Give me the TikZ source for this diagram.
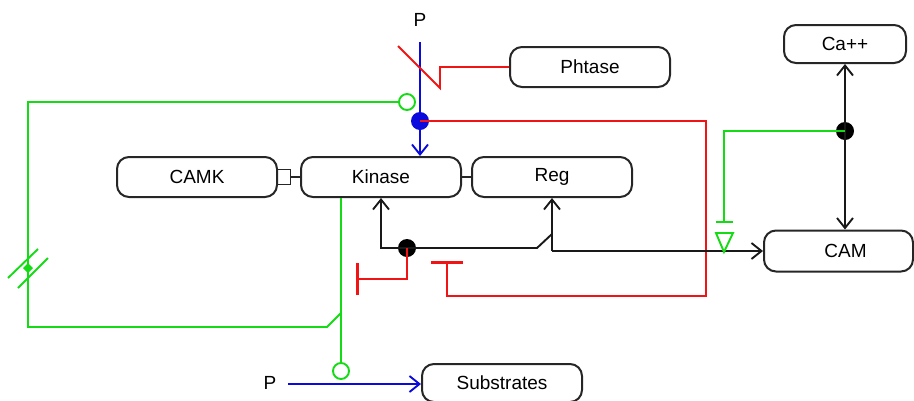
\documentclass[tikz,border=0pt]{standalone}
\usepackage{fontspec}
\setmainfont{Liberation Sans}
\usetikzlibrary{arrows.meta}
\definecolor{gr}{RGB}{20,220,20}
\definecolor{rd}{RGB}{240,20,20}
\definecolor{bl}{RGB}{10,10,220}
\begin{document}
\begin{tikzpicture}[x=1pt,y=-1pt,
  box/.style={draw=black!85, line width=2pt, rounded corners=12pt, minimum width=160pt, minimum height=40pt, inner sep=0pt, font=\fontsize{19}{22}\selectfont},
  lbl/.style={font=\fontsize{19}{22}\selectfont, inner sep=0pt},
  ln/.style={line width=1.9pt},
  barb/.style={-{Straight Barb[length=10pt,width=16pt,line width=1.9pt]}},
  tbar/.style={-{Bar[width=32pt,line width=3pt]}},
  dotb/.style={circle, fill=black, inner sep=0pt, minimum size=18pt},
  circg/.style={circle, draw=gr, fill=white, line width=1.9pt, inner sep=0pt, minimum size=16pt}]
\useasboundingbox (0,0) rectangle (914,400);

% nodes
\node[box] (phtase) at (590,67) {Phtase};
\node[box, minimum width=122pt, minimum height=38pt] (ca) at (845,44) {Ca++};
\node[box] (camk) at (197,177) {CAMK};
\node[box] (kinase) at (381,177) {Kinase};
\node[box] (reg) at (552,177) {Reg};
\node[box, minimum width=149pt, minimum height=41pt] (cam) at (838.5,251) {\hspace*{14pt}CAM};
\node[box, minimum height=38pt] (subs) at (502,383) {Substrates};
\node[lbl] (ptop) at (420,20) {P};
\node[lbl] (pbot) at (270,383) {P};

% CAMK - Kinase
\node[draw=black!85, line width=1.8pt, minimum width=13pt, minimum height=15pt, inner sep=0pt] (sq) at (284,177) {};
\draw[ln, black!85] (sq.east) -- (kinase.west);
\draw[ln, black!85] (kinase.east) -- (reg.west);

% blue top
\coordinate (btop) at (420,42);
\node[dotb, fill=bl] (bdot) at (420,121) {};
\draw[ln, bl, barb] (btop) -- (kinase.north -| btop);

% red Phtase inhibition
\coordinate (ph1) at (440,67);
\coordinate (ph2) at (440,88);
\coordinate (ph3) at (398,46);
\draw[ln, rd] (phtase.west) -- (ph1) -- (ph2) -- (ph3);

% red long line from blue dot
\coordinate (r1) at (706,121);
\coordinate (r2) at (706,296);
\coordinate (r3) at (447,296);
\coordinate (r4) at (447,261);
\draw[ln, rd, tbar] (bdot.center) -- (r1) -- (r2) -- (r3) -- (r4);

% green top loop
\node[circg] (gc1) at (407,102) {};
\coordinate (g1) at (28,102);
\coordinate (g2) at (28,327);
\coordinate (g3) at (327,327);
\coordinate (g4) at (341,313);
\draw[ln, gr] (gc1.west) -- (g1) -- (g2) -- (g3) -- (g4);
% green double slash
\draw[ln, gr] (8,278) -- (38,249);
\draw[ln, gr] (18,288) -- (48,258);
\fill[gr] (28,263) -- (33,268) -- (28,273) -- (23,268) -- cycle;

% green from Kinase to substrates arrow
\node[circg] (gc2) at (341,371) {};
\draw[ln, gr] (kinase.south -| gc2) -- (gc2.north);

% blue bottom
\coordinate (bb) at (288,384);
\draw[ln, bl, barb] (bb) -- (bb -| subs.west);

% black dot logic
\node[dotb] (kdot) at (407,248) {};
\coordinate (k1) at (381,248);
\draw[ln, black!90, barb] (kdot.center) -- (k1) -- (kinase.south -| k1);
\coordinate (k2) at (537,248);
\coordinate (k3) at (552,234);
\draw[ln, black!90] (kdot.center) -- (k2) -- (k3);
\coordinate (k4) at (552,251);
\draw[ln, black!90, barb] (k4) -- (reg.south);
\draw[ln, black!90, barb] (k4) -- (cam.west);

% red T from black dot
\coordinate (t1) at (407,279);
\coordinate (t2) at (356,279);
\draw[ln, rd, tbar] (kdot.center) -- (t1) -- (t2);

% Ca++ / CAM
\node[dotb] (cdot) at (845,131) {};
\draw[ln, black!90, barb] (cdot.center) -- (ca.south);
\draw[ln, black!90, barb] (cdot.center) -- (cam.north -| cdot);

% green necessary stimulation
\coordinate (s1) at (724,131);
\coordinate (s2) at (724,222);
\draw[ln, gr] (cdot.center) -- (s1) -- (s2);
\draw[ln, gr] (716,222) -- (733,222);
\draw[ln, gr, line join=miter] (716,233) -- (733,233) -- (724,252) -- cycle;
\end{tikzpicture}
\end{document}
